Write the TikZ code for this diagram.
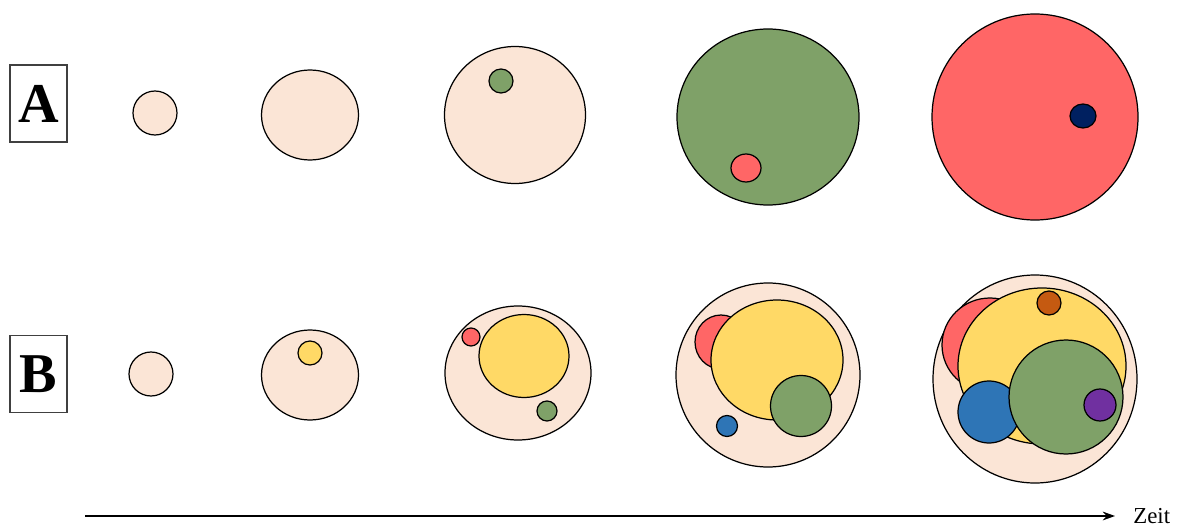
\documentclass[tikz,border=0pt]{standalone}
\usepackage{fontspec}
\setmainfont{Liberation Serif}
\usepackage{xcolor}
\usetikzlibrary{arrows.meta, positioning}
\definecolor{peach}{RGB}{251,229,214}
\definecolor{moss}{RGB}{127,161,104}
\definecolor{coral}{RGB}{255,102,102}
\definecolor{sun}{RGB}{255,217,102}
\definecolor{ocean}{RGB}{46,117,182}
\definecolor{rust}{RGB}{197,90,17}
\definecolor{violet}{RGB}{112,48,160}
\definecolor{navy}{RGB}{0,32,96}

\begin{document}
\begin{tikzpicture}[x=0.02cm, y=-0.02cm,
    blob/.style={draw=black, line width=0.7pt},
    rowlabel/.style={draw=black!75, line width=0.6pt, minimum width=1.14cm, minimum height=1.54cm,
      inner sep=0pt, font=\fontsize{32}{36}\selectfont\bfseries}]
  \useasboundingbox (0,0) rectangle (1180,527);

  % Row labels
  \node[rowlabel] (labA) at (38.5,103.5) {A};
  \node[rowlabel] (labB) at (38.5,374) {B};

  % Row A
  \draw[blob, fill=peach] (155,113) ellipse [x radius=22, y radius=22];
  \draw[blob, fill=peach] (310,115) ellipse [x radius=48.5, y radius=45];
  \draw[blob, fill=peach] (515,115) ellipse [x radius=70.5, y radius=68.5];
  \draw[blob, fill=moss] (501,81) ellipse [x radius=12, y radius=12];
  \draw[blob, fill=moss] (768,117) ellipse [x radius=91, y radius=88];
  \draw[blob, fill=coral] (746,168) ellipse [x radius=15, y radius=14];
  \draw[blob, fill=coral] (1035,117) ellipse [x radius=103, y radius=103];
  \draw[blob, fill=navy] (1083,116) ellipse [x radius=13, y radius=12];

  % Row B
  \draw[blob, fill=peach] (151,374) ellipse [x radius=22, y radius=22];
  \draw[blob, fill=peach] (310,375) ellipse [x radius=48.5, y radius=45];
  \draw[blob, fill=sun] (310,353) ellipse [x radius=12, y radius=12];

  \draw[blob, fill=peach] (518,373) ellipse [x radius=73, y radius=67];
  \draw[blob, fill=sun] (524,356) ellipse [x radius=45, y radius=41.5];
  \draw[blob, fill=coral] (471,337) ellipse [x radius=9, y radius=9];
  \draw[blob, fill=moss] (547,411) ellipse [x radius=10, y radius=10];

  \draw[blob, fill=peach] (768,375) ellipse [x radius=92, y radius=92];
  \draw[blob, fill=coral] (721,342) ellipse [x radius=26, y radius=27];
  \draw[blob, fill=sun] (777,360) ellipse [x radius=66, y radius=60];
  \draw[blob, fill=moss] (801,406) ellipse [x radius=30.5, y radius=30.5];
  \draw[blob, fill=ocean] (727,426) ellipse [x radius=10.5, y radius=10.5];

  \draw[blob, fill=peach] (1035,379) ellipse [x radius=102, y radius=104];
  \draw[blob, fill=coral] (990,345) ellipse [x radius=48, y radius=47];
  \draw[blob, fill=sun] (1042,366) ellipse [x radius=84, y radius=78];
  \draw[blob, fill=rust] (1049,303) ellipse [x radius=12, y radius=12];
  \draw[blob, fill=ocean] (989,412) ellipse [x radius=31, y radius=31];
  \draw[blob, fill=moss] (1066,397) ellipse [x radius=57, y radius=57];
  \draw[blob, fill=violet] (1100,405) ellipse [x radius=16, y radius=16];

  % Time axis
  \coordinate (tstart) at (85,516);
  \node[anchor=west, inner sep=0pt, font=\fontsize{13}{15}\selectfont] (zeit) at (1133,516) {Zeit};
  \draw[-{Stealth[length=7pt, width=5pt]}, line width=0.9pt] (tstart) -- ([xshift=-0.36cm]zeit.west);
\end{tikzpicture}
\end{document}
